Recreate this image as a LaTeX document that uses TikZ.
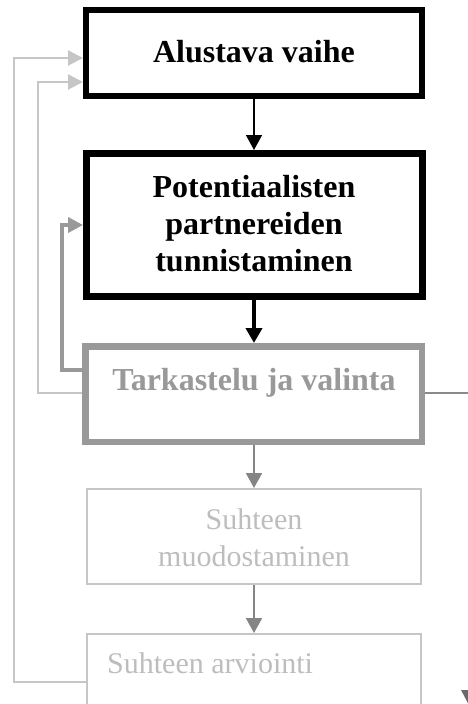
\documentclass[tikz,border=0pt]{standalone}
\usepackage{fontspec}
\setmainfont{Liberation Serif}
\usetikzlibrary{arrows.meta}
\definecolor{midgray}{HTML}{999999}
\definecolor{arrowgray}{HTML}{858585}
\definecolor{palegray}{HTML}{C6C6C6}
\definecolor{paletext}{HTML}{BDBDBD}
\definecolor{edgegray}{HTML}{8A8A8A}
\definecolor{tipgray}{HTML}{6A6A6A}

\begin{document}
\begin{tikzpicture}[x=1pt,y=-1pt,
  stage/.style={draw, rectangle, inner sep=0pt, minimum width=336pt},
  boldtext/.style={font=\fontsize{32}{37}\selectfont\bfseries, inner sep=0pt, align=center},
  plaintext/.style={font=\fontsize{30}{37}\selectfont, inner sep=0pt, align=center, text=paletext},
  tip/.style={-{Triangle[length=15pt,width=16pt]}},
  flow/.style={tip},
  backlink/.style={draw=palegray, line width=2.2pt, -{Triangle[length=15pt,width=15pt]}, palegray},
  retry/.style={draw=midgray, line width=4.5pt, -{Triangle[length=15pt,width=15pt]}, midgray}
]
\clip (0,0) rectangle (468,704);

% process stages
\node[stage, line width=6pt, minimum height=86pt] (b1) at (254,53) {};
\node[stage, line width=7pt, minimum height=143pt] (b2) at (254.5,225) {};
\node[stage, draw=midgray, line width=6.5pt, minimum width=336.5pt, minimum height=95.5pt] (b3) at (253.5,394) {};
\node[stage, draw=palegray, line width=2pt, minimum width=334pt, minimum height=95pt] (b4) at (254,536.5) {};
\node[stage, draw=palegray, line width=2pt, minimum width=334pt, minimum height=90pt] (b5) at (254,679) {};

% stage titles
\node[boldtext, anchor=base] (t1) at (254,62) {Alustava vaihe};
\node[boldtext] (t2) at (254,224) {Potentiaalisten\\partnereiden\\tunnistaminen};
\node[boldtext, anchor=base, text=midgray] (t3) at (254,390) {Tarkastelu ja valinta};
\node[plaintext] (t4) at (254,537.5) {Suhteen\\muodostaminen};
\node[plaintext, anchor=base west] (t5) at (107,673) {Suhteen arviointi};

% forward flow
\draw[flow, line width=1.5pt] (b1.south) -- (b1.south |- b2.north);
\draw[flow, line width=4.5pt] (b2.south -| b1.south) -- (b1.south |- b3.north);
\draw[flow, line width=2pt, arrowgray] (b3.south -| b1.south) -- (b1.south |- b4.north);
\draw[flow, line width=2pt, arrowgray] (b4.south) -- (b4.south |- b5.north);

% feedback loops on the left
\coordinate (o1) at (14,682);
\coordinate (o1t) at (14,58);
\coordinate (o2) at (38,393);
\coordinate (o2t) at (38,82);
\coordinate (o3) at (62,370);
\coordinate (o3t) at (62,225);
\draw[backlink] (b5.west |- o1) -- (o1) -- (o1t) -- (b1.west |- o1t);
\draw[backlink] (b3.west |- o2) -- (o2) -- (o2t) -- (b1.west |- o2t);
\draw[retry] (b3.west |- o3) -- (o3) -- (o3t) -- (b2.west |- o3t);

% exit line on the right, its arrowhead running off the bottom edge
\coordinate (r1) at (470,393);
\draw[edgegray, line width=1.5pt] (b3.east |- r1) -- (r1);
\fill[tipgray] (461,690) -- (479,690) -- (470,707) -- cycle;
\end{tikzpicture}
\end{document}
